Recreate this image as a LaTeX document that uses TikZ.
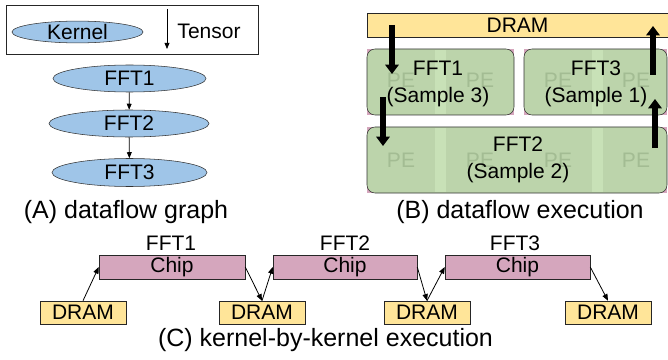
\documentclass[tikz,border=0pt]{standalone}
\usepackage{fontspec}
\setmainfont{Liberation Sans}
\usetikzlibrary{shapes.geometric,arrows.meta}
\definecolor{kernelblue}{HTML}{9FC5E8}
\definecolor{dramyellow}{HTML}{FFE599}
\definecolor{chippink}{HTML}{D5A6BD}
\definecolor{pegreen}{HTML}{BCD4AB}
\definecolor{stripgreen}{HTML}{C8E1B7}
\definecolor{petext}{HTML}{A3BC93}
\def\pu{0.75pt}

\begin{document}
\begin{tikzpicture}[
  x=0.75pt, y=-0.75pt,
  font=\fontsize{15.75}{20.25}\selectfont,
  kernel/.style={ellipse, draw=black!80, fill=kernelblue, inner sep=0pt},
  dram/.style={draw=black!85, fill=dramyellow, inner sep=0pt,
               minimum width=86*\pu, minimum height=23*\pu},
  chip/.style={draw=black!85, fill=chippink, inner sep=0pt,
               minimum width=146*\pu, minimum height=24*\pu},
  pebox/.style={draw=black!80, fill=pegreen, rounded corners=6pt, inner sep=0pt},
  pelabel/.style={text=petext},
  caption/.style={font=\fontsize{18.75}{22}\selectfont},
  flow/.style={-{Triangle[length=4.5pt,width=3.6pt]}, line width=0.6pt},
  bigflow/.style={-{Triangle[length=7pt,width=10pt]}, line width=3.8pt},
  fetch/.style={-{Triangle[length=5pt,width=4pt]}, line width=0.6pt}
]
\useasboundingbox (0,0) rectangle (668,360);

% (A) dataflow graph
\draw[black!85, line width=0.7pt] (6,5) rectangle (258,54);
\node[kernel, minimum width=131*\pu, minimum height=21*\pu] (kernel) at (77.5,32) {Kernel};
\coordinate (tensortop) at (167,9);
\coordinate (tensorbot) at (167,49);
\draw[flow] (tensortop) -- (tensorbot);
\node (tensor) at (209,31) {Tensor};

\node[kernel, minimum width=153*\pu, minimum height=27*\pu] (fft1) at (129.5,78.5) {FFT1};
\node[kernel, minimum width=160*\pu, minimum height=27*\pu] (fft2) at (129,123.5) {FFT2};
\node[kernel, minimum width=155*\pu, minimum height=28*\pu] (fft3) at (129.5,172.5) {FFT3};
\draw[flow] (fft1) -- (fft2);
\draw[flow] (fft2) -- (fft3);
\node[caption] (captiona) at (126,212) {(A) dataflow graph};

% (B) dataflow execution
\node[dram, minimum width=301*\pu, minimum height=24*\pu] (drambar) at (517.5,25) {DRAM};
\fill[chippink] (367,49) rectangle (514,115);
\fill[chippink] (524,49) rectangle (667,115);
\fill[chippink] (367,127) rectangle (667,193);
\node[pebox, minimum width=147*\pu, minimum height=66*\pu] (box1) at (440.5,82) {};
\node[pebox, minimum width=143*\pu, minimum height=66*\pu] (box3) at (595.5,82) {};
\node[pebox, minimum width=300*\pu, minimum height=66*\pu] (box2) at (517,160) {};
\foreach \sx in {435,592} {
  \fill[stripgreen] (\sx,49.8) rectangle ++(11,64.4);
  \fill[stripgreen] (\sx,127.8) rectangle ++(11,64.4);
}
\foreach \px in {401,480,558,636}
  \foreach \py in {80,160}
    \node[pelabel] at (\px,\py) {PE};
\node[align=center] (fft1exec) at (438,83.5) {FFT1\\(Sample 3)};
\node[align=center] (fft3exec) at (596,83.5) {FFT3\\(Sample 1)};
\node[align=center] (fft2exec) at (518,160) {FFT2\\(Sample 2)};

\coordinate (loadtop) at (392,25);
\coordinate (loadbot) at (392,74);
\coordinate (passtop) at (383,97);
\coordinate (passbot) at (383,146);
\coordinate (storebot) at (653,75);
\coordinate (storetop) at (653,26);
\coordinate (handbot) at (655,148);
\coordinate (handtop) at (655,99);
\draw[bigflow] (loadtop) -- (loadbot);
\draw[bigflow] (passtop) -- (passbot);
\draw[bigflow] (storebot) -- (storetop);
\draw[bigflow] (handbot) -- (handtop);
\node[caption] (captionb) at (520,212) {(B) dataflow execution};

% (C) kernel-by-kernel execution
\node[chip] (chip1) at (172,267) {Chip};
\node[chip, minimum width=144*\pu] (chip2) at (345,267) {Chip};
\node[chip, minimum width=145*\pu] (chip3) at (517.5,267) {Chip};
\node (chiplabel1) at (171,243) {FFT1};
\node (chiplabel2) at (345,243) {FFT2};
\node (chiplabel3) at (515,243) {FFT3};

\node[dram] (dram1) at (83,312.5) {DRAM};
\node[dram] (dram2) at (262,312.5) {DRAM};
\node[dram] (dram3) at (427,312.5) {DRAM};
\node[dram] (dram4) at (608,312.5) {DRAM};

\draw[fetch] (dram1.north) -- (chip1.west);
\draw[fetch] (chip1.east) -- (dram2.north);
\draw[fetch] (dram2.north) -- (chip2.west);
\draw[fetch] (chip2.east) -- (dram3.north);
\draw[fetch] (dram3.north) -- (chip3.west);
\draw[fetch] (chip3.east) -- (dram4.north);
\node[caption] (captionc) at (325.5,340) {(C) kernel-by-kernel execution};
\end{tikzpicture}
\end{document}
